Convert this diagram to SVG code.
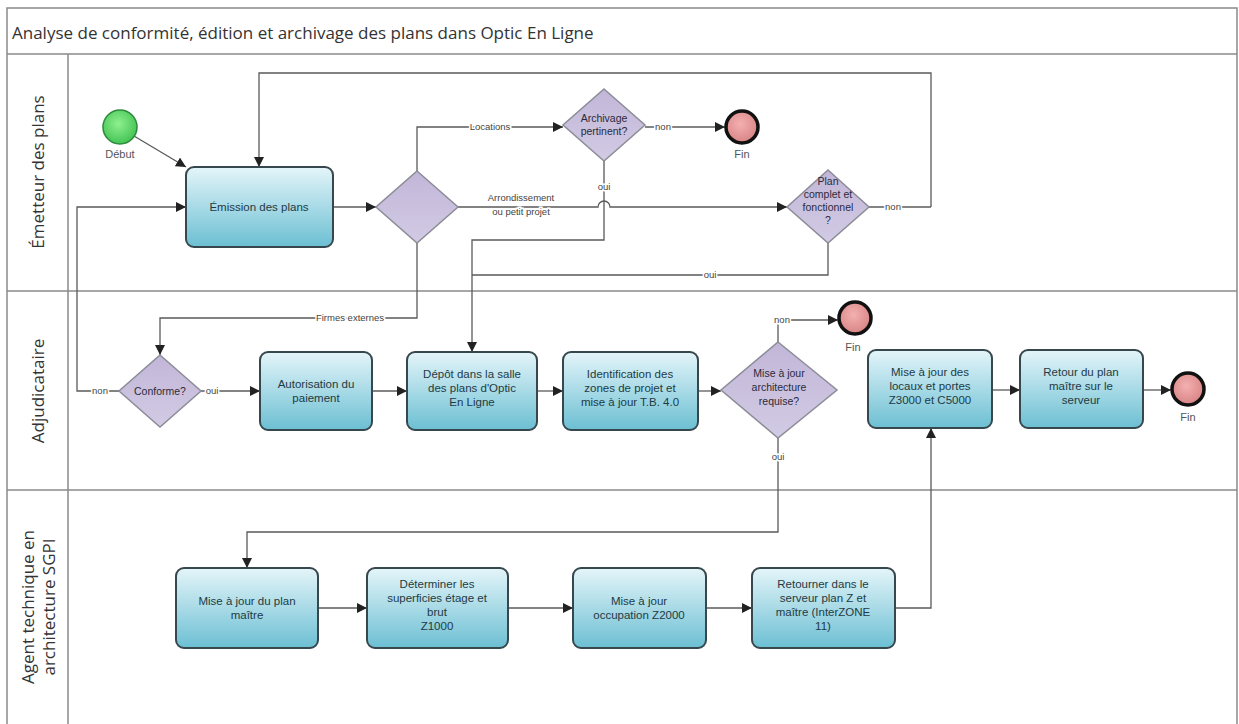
<svg xmlns="http://www.w3.org/2000/svg" width="1239" height="724" viewBox="0 0 1239 724">
<defs>
<linearGradient id="gTask" x1="0" y1="0" x2="0" y2="1">
<stop offset="0" stop-color="#e4f5f9"/><stop offset="1" stop-color="#6cbfd3"/>
</linearGradient>
<linearGradient id="gGate" x1="0" y1="0" x2="0" y2="1">
<stop offset="0" stop-color="#c2b6d8"/><stop offset="1" stop-color="#d2cbe4"/>
</linearGradient>
<radialGradient id="gStart" cx="0.45" cy="0.4" r="0.6">
<stop offset="0" stop-color="#8ef08e"/><stop offset="1" stop-color="#44c454"/>
</radialGradient>
<radialGradient id="gEnd" cx="0.45" cy="0.4" r="0.6">
<stop offset="0" stop-color="#f4b0b0"/><stop offset="1" stop-color="#d88484"/>
</radialGradient>
<marker id="arr" viewBox="0 0 10 10" refX="10" refY="5" markerWidth="10" markerHeight="10" markerUnits="userSpaceOnUse" orient="auto">
<path d="M0,0 L10,5 L0,10 z" fill="#222"/>
</marker>
<style>
.frame{fill:none;stroke:#8a8a8a;stroke-width:1.5}
.title{font-family:"Open Sans","Liberation Sans",sans-serif;font-size:17px;fill:#333}
.lane{font-family:"Open Sans","Liberation Sans",sans-serif;font-size:17px;fill:#333}
.task{fill:url(#gTask);stroke:#36474d;stroke-width:2}
.gate{fill:url(#gGate);stroke:#8c8c98;stroke-width:1.5}
.start{fill:url(#gStart);stroke:#2e8a3c;stroke-width:1.5}
.end{fill:url(#gEnd);stroke:#111;stroke-width:3.5}
.t{font-family:"Liberation Sans",Arial,sans-serif;font-size:11.5px;fill:#1f3a44;text-anchor:middle}
.g{font-family:"Liberation Sans",Arial,sans-serif;font-size:10.5px;fill:#2a2a3a;text-anchor:middle}
.ev{font-family:"Liberation Sans",Arial,sans-serif;font-size:11px;fill:#555;text-anchor:middle}
.c{fill:none;stroke:#5a5a5a;stroke-width:1.3}
.ca{fill:none;stroke:#5a5a5a;stroke-width:1.3;marker-end:url(#arr)}
.lbl{font-family:"Liberation Sans",Arial,sans-serif;font-size:9.5px;fill:#444;text-anchor:middle;paint-order:stroke;stroke:#fff;stroke-width:3px}
</style>
</defs>
<rect width="1239" height="724" fill="#fff"/>

<g id="pool">
<rect class="frame" x="7" y="8" width="1230" height="730"/>
<line class="frame" x1="7" y1="54" x2="1237" y2="54"/>
<line class="frame" x1="68" y1="54" x2="68" y2="724"/>
<line class="frame" x1="7" y1="291" x2="1237" y2="291"/>
<line class="frame" x1="7" y1="490" x2="1237" y2="490"/>
<text class="title" x="12" y="39">Analyse de conformité, édition et archivage des plans dans Optic En Ligne</text>
<text class="lane" transform="translate(44,172) rotate(-90)" text-anchor="middle">Émetteur des plans</text>
<text class="lane" transform="translate(44,391) rotate(-90)" text-anchor="middle">Adjudicataire</text>
<text class="lane" transform="translate(34,607) rotate(-90)" text-anchor="middle">Agent technique en</text>
<text class="lane" transform="translate(55,607) rotate(-90)" text-anchor="middle">architecture SGPI</text>
</g>

<g id="connectors">
<path class="ca" d="M134,136 L186,167"/>
<path class="ca" d="M931,207 L931,73 L259,73 L259,167"/>
<path class="ca" d="M333,207 L376,207"/>
<path class="ca" d="M417,171 L417,127 L563,127"/>
<path class="ca" d="M645,127 L725,127"/>
<path class="ca" d="M458,207 L598,207 A6,6 0 0 1 610,207 L787,207"/>
<path class="c" d="M869,207 L931,207"/>
<path class="ca" d="M604,161 L604,240 L472,240 L472,352"/>
<path class="c" d="M828,243 L828,275 L472,275"/>
<path class="ca" d="M417,243 L417,318 L160,318 L160,355"/>
<path class="ca" d="M119,391 L77,391 L77,207 L186,207"/>
<path class="ca" d="M201,391 L260,391"/>
<path class="ca" d="M372,391 L407,391"/>
<path class="ca" d="M537,391 L563,391"/>
<path class="ca" d="M698,391 L721,391"/>
<path class="ca" d="M778,342 L778,320 L838,320"/>
<path class="ca" d="M778,438 L778,532 L247,532 L247,568"/>
<path class="ca" d="M992,390 L1020,390"/>
<path class="ca" d="M1143,390 L1171,390"/>
<path class="ca" d="M318,608 L367,608"/>
<path class="ca" d="M508,608 L573,608"/>
<path class="ca" d="M706,608 L752,608"/>
<path class="ca" d="M895,608 L931,608 L931,428"/>
<text class="lbl" x="490" y="130">Locations</text>
<text class="lbl" x="663" y="130">non</text>
<text class="lbl" x="521" y="201">Arrondissement</text>
<text class="lbl" x="521" y="215">ou petit projet</text>
<text class="lbl" x="604" y="190">oui</text>
<text class="lbl" x="893" y="210">non</text>
<text class="lbl" x="710" y="278">oui</text>
<text class="lbl" x="350" y="321">Firmes externes</text>
<text class="lbl" x="100" y="394">non</text>
<text class="lbl" x="212" y="394">oui</text>
<text class="lbl" x="782" y="323">non</text>
<text class="lbl" x="778" y="460">oui</text>
</g>

<g id="debut">
<circle class="start" cx="120" cy="127" r="17"/>
<text class="ev" x="120" y="158">Début</text>
</g>
<g id="emission">
<rect class="task" x="186" y="167" width="147" height="80" rx="8"/>
<text class="t" x="259" y="211">Émission des plans</text>
</g>
<g id="gw-type">
<polygon class="gate" points="417,171 458,207 417,243 376,207"/>
</g>
<g id="archivage">
<polygon class="gate" points="604,89 645,125 604,161 563,125"/>
<text class="g" x="604" y="122">Archivage</text>
<text class="g" x="604" y="135">pertinent?</text>
</g>
<g id="fin1">
<circle class="end" cx="742" cy="127" r="16"/>
<text class="ev" x="742" y="158">Fin</text>
</g>
<g id="plancomplet">
<polygon class="gate" points="828,170 869,207 828,243 787,207"/>
<text class="g" x="828" y="185">Plan</text>
<text class="g" x="828" y="198">complet et</text>
<text class="g" x="828" y="211">fonctionnel</text>
<text class="g" x="828" y="224">?</text>
</g>
<g id="conforme">
<polygon class="gate" points="160,355 201,391 160,427 119,391"/>
<text class="g" x="160" y="395">Conforme?</text>
</g>
<g id="autorisation">
<rect class="task" x="260" y="352" width="112" height="78" rx="8"/>
<text class="t" x="316" y="388">Autorisation du</text>
<text class="t" x="316" y="402">paiement</text>
</g>
<g id="depot">
<rect class="task" x="407" y="352" width="130" height="78" rx="8"/>
<text class="t" x="472" y="378">Dépôt dans la salle</text>
<text class="t" x="472" y="392">des plans d'Optic</text>
<text class="t" x="472" y="406">En Ligne</text>
</g>
<g id="identification">
<rect class="task" x="563" y="352" width="135" height="78" rx="8"/>
<text class="t" x="630" y="378">Identification des</text>
<text class="t" x="630" y="392">zones de projet et</text>
<text class="t" x="630" y="406">mise à jour T.B. 4.0</text>
</g>
<g id="miseajourarch">
<polygon class="gate" points="778,342 837,390 778,438 721,390"/>
<text class="g" x="779" y="377">Mise à jour</text>
<text class="g" x="779" y="391">architecture</text>
<text class="g" x="779" y="405">requise?</text>
</g>
<g id="fin2">
<circle class="end" cx="855" cy="318" r="16"/>
<text class="ev" x="853" y="351">Fin</text>
</g>
<g id="locaux">
<rect class="task" x="868" y="350" width="124" height="78" rx="8"/>
<text class="t" x="930" y="376">Mise à jour des</text>
<text class="t" x="930" y="390">locaux et portes</text>
<text class="t" x="930" y="404">Z3000 et C5000</text>
</g>
<g id="retour">
<rect class="task" x="1020" y="350" width="123" height="78" rx="8"/>
<text class="t" x="1081" y="376">Retour du plan</text>
<text class="t" x="1081" y="390">maître sur le</text>
<text class="t" x="1081" y="404">serveur</text>
</g>
<g id="fin3">
<circle class="end" cx="1188" cy="389" r="16"/>
<text class="ev" x="1188" y="421">Fin</text>
</g>
<g id="miseajourplan">
<rect class="task" x="176" y="568" width="142" height="80" rx="8"/>
<text class="t" x="247" y="605">Mise à jour du plan</text>
<text class="t" x="247" y="619">maître</text>
</g>
<g id="determiner">
<rect class="task" x="367" y="568" width="141" height="80" rx="8"/>
<text class="t" x="437" y="588">Déterminer les</text>
<text class="t" x="437" y="602">superficies étage et</text>
<text class="t" x="437" y="616">brut</text>
<text class="t" x="437" y="630">Z1000</text>
</g>
<g id="occupation">
<rect class="task" x="573" y="568" width="133" height="80" rx="8"/>
<text class="t" x="639" y="605">Mise à jour</text>
<text class="t" x="639" y="619">occupation Z2000</text>
</g>
<g id="retourner">
<rect class="task" x="752" y="568" width="143" height="80" rx="8"/>
<text class="t" x="823" y="588">Retourner dans le</text>
<text class="t" x="823" y="602">serveur plan Z et</text>
<text class="t" x="823" y="616">maître (InterZONE</text>
<text class="t" x="823" y="630">11)</text>
</g>
</svg>
